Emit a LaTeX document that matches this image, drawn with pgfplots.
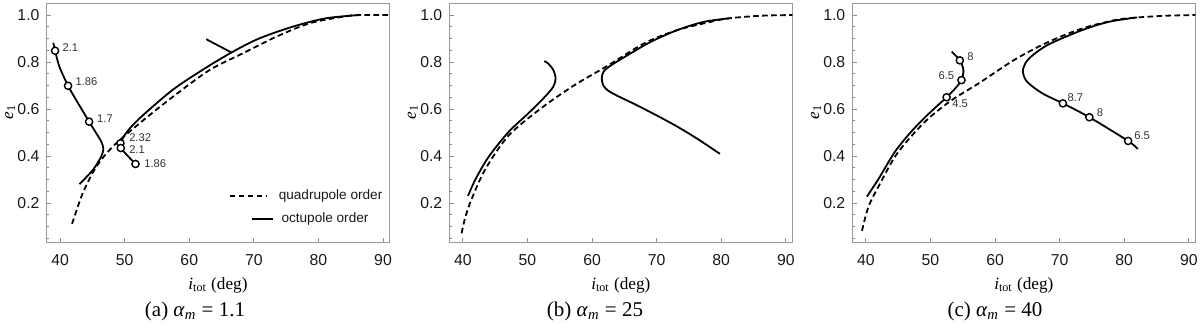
\documentclass[border=0pt]{standalone}
\usepackage{fontspec}
\setmainfont{Liberation Serif}
\setsansfont{Liberation Sans}
\usepackage{pgfplots}
\pgfplotsset{compat=1.18}

\newcommand{\lab}{\sffamily\fontsize{5.6}{6}\selectfont\color{black!80}}

\pgfplotsset{
 panel/.style={
  scale only axis, width=171.5pt, height=119.7pt,
  xmin=37.9, xmax=91.0, ymin=0.031, ymax=1.05,
  xtick={40,50,60,70,80,90}, ytick={0.2,0.4,0.6,0.8,1.0},
  minor ytick={0.05,0.1,0.15,0.25,0.3,0.35,0.45,0.5,0.55,0.65,0.7,0.75,0.85,0.9,0.95},
  tick align=inside, tick pos=left,
  major tick length=2.4pt, minor tick length=1.4pt,
  axis line style={black!40},
  every tick/.style={black!45, line width=0.4pt},
  /pgf/number format/assume math mode=true,
  tick label style={font=\sffamily\fontsize{7.9}{8}\selectfont, black!90},
  xticklabel style={yshift=-2.4pt},
  yticklabel style={/pgf/number format/.cd, fixed, fixed zerofill, precision=1},
  xlabel={\textit{i}\textsubscript{tot} (deg)},
  ylabel={\textit{e}\textsubscript{1}},
  label style={font=\fontsize{8.6}{10}\selectfont},
  xlabel style={at={(axis description cs:0.5,-0.18)}, anchor=center},
  ylabel style={at={(axis description cs:-0.106,0.546)}, anchor=center},
 },
 quad/.style={black, line width=0.9pt, dash pattern=on 2.8pt off 1.7pt, smooth},
 octu/.style={black, line width=0.9pt, smooth},
 rings/.style={only marks, mark=*, mark size=1.8pt, mark options={fill=white, draw=black, line width=0.7pt}},
}

\begin{document}
\begin{tikzpicture}
\path[use as bounding box] (0,0) rectangle (600pt,162pt);

% (a) alpha_m = 1.1
\begin{axis}[panel, at={(23.25pt,40.65pt)}, anchor=south west]
\addplot[quad] coordinates {(41.86,0.111)(43.5,0.241)(45.6,0.354)(48.16,0.44)(52.3,0.539)(57.46,0.652)(63.15,0.766)(68.3,0.837)(73.5,0.908)(78.65,0.965)(83.8,0.993)(86.3,1.0)(91.0,1.0)};
\addplot[octu] coordinates {(38.96,0.882)(39.23,0.848)(39.9,0.78)(41.24,0.699)(42.5,0.638)(44.5,0.546)(45.6,0.497)(46.4,0.46)(46.7,0.43)(46.36,0.397)(45.06,0.34)(43.0,0.28)};
\addplot[octu] coordinates {(51.68,0.366)(50.5,0.40)(49.4,0.434)(49.35,0.454)(50.2,0.497)(52.3,0.560)(57.46,0.682)(62.6,0.776)(66.76,0.844)(70.8,0.90)(75.97,0.95)(81.1,0.986)(86.3,1.0)};
\addplot[black, line width=0.9pt] coordinates {(62.64,0.897)(66.5,0.841)};
\addplot[rings] coordinates {(39.23,0.848)(41.24,0.699)(44.5,0.546)(49.35,0.454)(49.4,0.434)(51.68,0.366)};
\node[anchor=west,inner sep=0pt] at (axis cs:40.33,0.863) {\lab 2.1};
\node[anchor=west,inner sep=0pt] at (axis cs:42.34,0.716) {\lab 1.86};
\node[anchor=west,inner sep=0pt] at (axis cs:45.69,0.560) {\lab 1.7};
\node[anchor=west,inner sep=0pt] at (axis cs:50.65,0.480) {\lab 2.32};
\node[anchor=west,inner sep=0pt] at (axis cs:50.65,0.426) {\lab 2.1};
\node[anchor=west,inner sep=0pt] at (axis cs:52.98,0.369) {\lab 1.86};
% legend
\draw[black,line width=0.9pt,dash pattern=on 2.8pt off 1.7pt] (axis description cs:0.534,0.195) -- (axis description cs:0.641,0.195);
\draw[black,line width=0.9pt] (axis description cs:0.599,0.099) -- (axis description cs:0.660,0.099);
\node[anchor=west,inner sep=0pt,font=\sffamily\fontsize{6.8}{7}\selectfont,black!90] at (axis description cs:0.676,0.195) {quadrupole order};
\node[anchor=west,inner sep=0pt,font=\sffamily\fontsize{6.8}{7}\selectfont,black!90] at (axis description cs:0.684,0.099) {octupole order};
\end{axis}

% (b) alpha_m = 25
\begin{axis}[panel, at={(224.65pt,40.65pt)}, anchor=south west]
\addplot[quad] coordinates {(39.8,0.071)(40.4,0.142)(41.43,0.222)(43.5,0.345)(47.08,0.487)(52.2,0.605)(57.3,0.702)(62.46,0.785)(68.1,0.88)(73.2,0.936)(78.35,0.971)(81.2,0.986)(86.05,0.997)(91.0,1.0)};
\addplot[octu] coordinates {(40.8,0.23)(41.9,0.298)(44.0,0.397)(47.1,0.503)(50.15,0.582)(52.7,0.652)(54.0,0.695)(54.35,0.73)(54.0,0.766)(53.2,0.794)(52.6,0.804)};
\addplot[octu] coordinates {(81.2,0.986)(77.3,0.971)(73.2,0.936)(69.1,0.886)(65.55,0.83)(63.0,0.787)(61.8,0.76)(61.5,0.73)(61.75,0.70)(62.5,0.678)(64.0,0.655)(66.5,0.622)(69.5,0.58)(73.2,0.525)(76.6,0.468)(79.8,0.409)};
\end{axis}

% (c) alpha_m = 40
\begin{axis}[panel, at={(426.15pt,40.65pt)}, anchor=south west]
\addplot[quad] coordinates {(39.4,0.082)(40.4,0.184)(41.95,0.27)(44.5,0.397)(47.1,0.486)(49.7,0.56)(53.3,0.638)(57.45,0.709)(63.15,0.812)(68.3,0.886)(73.5,0.943)(78.65,0.979)(81.75,0.989)(86.4,0.997)(91.0,1.0)};
\addplot[octu] coordinates {(40.15,0.227)(41.95,0.302)(44.5,0.418)(47.1,0.506)(49.7,0.579)(52.5,0.65)(53.85,0.688)(54.8,0.723)(55.1,0.766)(54.55,0.807)(53.3,0.844)};
\addplot[octu] coordinates {(82.0,0.99)(77.6,0.971)(73.5,0.936)(68.3,0.875)(65.7,0.826)(64.7,0.795)(64.3,0.759)(64.96,0.716)(67.3,0.667)(70.5,0.624)(74.6,0.565)(80.6,0.464)(82.1,0.43)};
\addplot[rings] coordinates {(52.5,0.65)(54.8,0.723)(54.55,0.807)(70.5,0.624)(74.6,0.565)(80.6,0.464)};
\node[anchor=west,inner sep=0pt] at (axis cs:55.66,0.823) {\lab 8};
\node[anchor=east,inner sep=0pt] at (axis cs:53.74,0.740) {\lab 6.5};
\node[anchor=west,inner sep=0pt] at (axis cs:53.33,0.621) {\lab 4.5};
\node[anchor=west,inner sep=0pt] at (axis cs:71.16,0.650) {\lab 8.7};
\node[anchor=west,inner sep=0pt] at (axis cs:75.70,0.586) {\lab 8};
\node[anchor=west,inner sep=0pt] at (axis cs:81.50,0.486) {\lab 6.5};
\end{axis}

\node[font=\fontsize{10.5}{12}\selectfont] at (97.5pt,6.5pt) {(a)\ \textit{α}\textsubscript{\textit{m}} = 1.1};
\node[font=\fontsize{10.5}{12}\selectfont] at (297.5pt,6.5pt) {(b)\ \textit{α}\textsubscript{\textit{m}} = 25};
\node[font=\fontsize{10.5}{12}\selectfont] at (497.5pt,6.5pt) {(c)\ \textit{α}\textsubscript{\textit{m}} = 40};
\end{tikzpicture}
\end{document}
